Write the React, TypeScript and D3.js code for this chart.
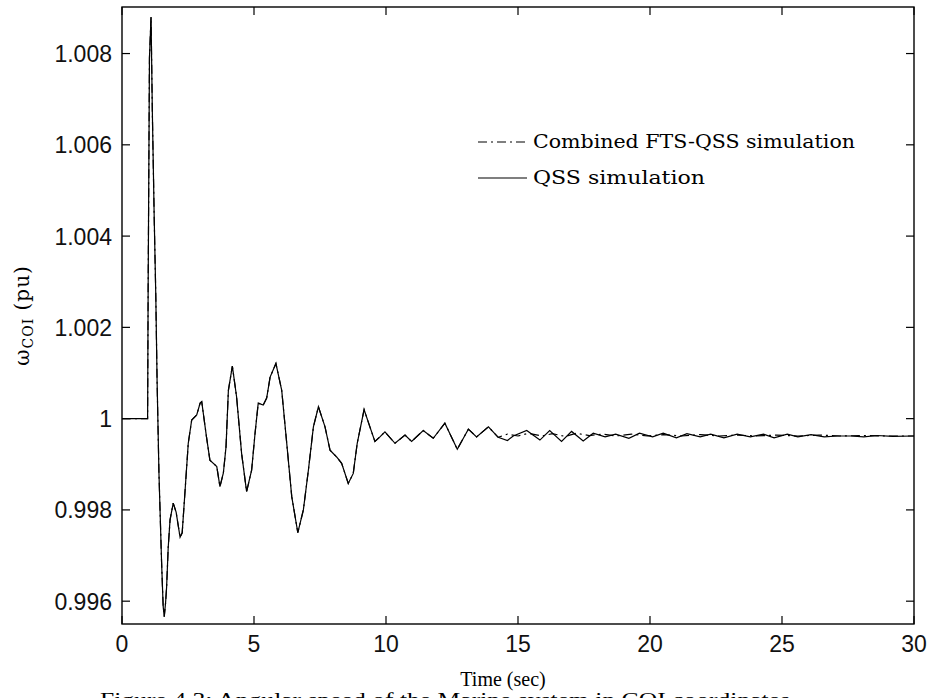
import React from "react";
import * as d3 from "d3";

// ---- data ----
const X_TICKS = [0, 5, 10, 15, 20, 25, 30];
const Y_TICKS = [0.996, 0.998, 1, 1.002, 1.004, 1.006, 1.008];
const Y_TICK_LABELS = ["0.996", "0.998", "1", "1.002", "1.004", "1.006", "1.008"];

// common part of both simulations (identical up to ~14 s)
const TIME_COMMON = [
  0, 0.97, 0.99, 1.04, 1.1, 1.15, 1.22, 1.28, 1.33, 1.4, 1.5, 1.56, 1.6, 1.65, 1.69,
  1.75, 1.82, 1.94, 2.05, 2.2, 2.28, 2.39, 2.51, 2.64, 2.83, 2.96, 3.02, 3.2, 3.33,
  3.59, 3.71, 3.84, 3.94, 4.03, 4.18, 4.34, 4.53, 4.72, 4.91, 5.04, 5.16, 5.35, 5.48,
  5.61, 5.83, 6.05, 6.24, 6.43, 6.66, 6.87, 7.06, 7.25, 7.44, 7.69, 7.88, 8.13, 8.32,
  8.57, 8.76, 8.91, 9.17, 9.39, 9.58, 9.77, 9.96, 10.34, 10.72, 10.97, 11.41, 11.79,
  12.23, 12.7, 13.12, 13.43, 13.88, 14.25,
];
const OMEGA_COMMON = [
  1, 1, 1.0028, 1.0079, 1.0088, 1.0067, 1.0044, 1.0027, 1.0008, 0.9988, 0.99684,
  0.99588, 0.99566, 0.99596, 0.99631, 0.99717, 0.99778, 0.99815, 0.99795, 0.9974,
  0.9975, 0.99843, 0.99946, 0.99997, 1.00008, 1.00034, 1.00037, 0.9996, 0.99909,
  0.99895, 0.99851, 0.99881, 0.99938, 1.00062, 1.00115, 1.00048, 0.99924, 0.9984,
  0.99887, 0.99968, 1.00034, 1.0003, 1.00045, 1.00091, 1.00121, 1.00062, 0.99946,
  0.99829, 0.9975, 0.998, 0.99887, 0.99982, 1.00026, 0.99982, 0.99931, 0.99916,
  0.99902, 0.99858, 0.9988, 0.99946, 1.0002, 0.99982, 0.9995, 0.9996, 0.99971,
  0.99946, 0.99964, 0.9995, 0.99974, 0.99957, 0.9999, 0.99933, 0.99977, 0.9996,
  0.99982, 0.99959,
];

// QSS simulation tail
const TIME_QSS_TAIL = [
  14.6, 14.82, 15.33, 15.83, 16.2, 16.65, 17.03, 17.47, 17.85, 18.3, 18.7, 19.2, 19.6,
  20.1, 20.5, 21.0, 21.4, 21.9, 22.3, 22.8, 23.3, 23.8, 24.3, 24.7, 25.2, 25.6, 26.1,
  26.6, 27.1, 27.6, 28.1, 28.6, 29.2, 30,
];
const OMEGA_QSS_TAIL = [
  0.99952, 0.99962, 0.99974, 0.99953, 0.99974, 0.9995, 0.99972, 0.99951, 0.99968,
  0.9996, 0.99966, 0.99957, 0.99968, 0.9996, 0.99968, 0.99958, 0.99967, 0.9996,
  0.99966, 0.99958, 0.99966, 0.9996, 0.99966, 0.99958, 0.99966, 0.9996, 0.99965,
  0.9996, 0.99962, 0.99962, 0.9996, 0.99963, 0.99961, 0.99962,
];

// Combined FTS-QSS simulation tail
const TIME_FTS_TAIL = [
  14.6, 15.0, 15.4, 15.9, 16.3, 16.8, 17.2, 17.7, 18.2, 18.7, 19.3, 19.9, 20.5, 21.2,
  21.9, 22.6, 23.3, 24.0, 24.8, 25.6, 26.4, 27.2, 28.0, 28.9, 30,
];
const OMEGA_FTS_TAIL = [
  0.99966, 0.99962, 0.99968, 0.99962, 0.99967, 0.99961, 0.99968, 0.99963, 0.99966,
  0.99962, 0.99966, 0.99962, 0.99965, 0.99962, 0.99965, 0.99962, 0.99964, 0.99962,
  0.99964, 0.99962, 0.99964, 0.99962, 0.99963, 0.99962, 0.99962,
];

const LEGEND_LABELS = ["Combined FTS-QSS simulation", "QSS simulation"];

// ---- layout ----
const W = 931;
const H = 698;
const L = 122;
const R = 914;
const T = 7;
const B = 624;
const TICK = 8;

export default function App() {
  const x = d3.scaleLinear().domain([0, 30]).range([L, R]);
  const y = d3.scaleLinear().domain([0.9955, 1.00902]).range([B, T]);

  const common = TIME_COMMON.map((t, i) => [t, OMEGA_COMMON[i]] as [number, number]);
  const qss = common.concat(TIME_QSS_TAIL.map((t, i) => [t, OMEGA_QSS_TAIL[i]] as [number, number]));
  const fts = common.concat(TIME_FTS_TAIL.map((t, i) => [t, OMEGA_FTS_TAIL[i]] as [number, number]));

  const line = d3
    .line<[number, number]>()
    .x((d) => x(d[0]))
    .y((d) => y(d[1]));

  const dashDot = "9 4 2 4";

  return (
    <svg
      width={W}
      height={H}
      style={{ position: "absolute", left: 0, top: 0, background: "#fff" }}
      xmlns="http://www.w3.org/2000/svg"
    >
      <rect x={0} y={0} width={W} height={H} fill="#fff" />
      {/* curves */}
      <path d={line(fts) || ""} fill="none" stroke="#000" strokeWidth={1.2} strokeDasharray={dashDot} />
      <path d={line(qss) || ""} fill="none" stroke="#000" strokeWidth={1.2} />

      {/* frame */}
      <rect x={L} y={T} width={R - L} height={B - T} fill="none" stroke="#000" strokeWidth={1.4} />

      {/* x ticks */}
      {X_TICKS.map((t) => (
        <g key={"x" + t}>
          <line x1={x(t)} x2={x(t)} y1={B} y2={B - TICK} stroke="#000" strokeWidth={1.2} />
          <line x1={x(t)} x2={x(t)} y1={T} y2={T + TICK} stroke="#000" strokeWidth={1.2} />
          <text
            x={x(t)}
            y={652}
            textAnchor="middle"
            fontFamily="'Liberation Sans', Arial, sans-serif"
            fontSize={23}
            fill="#111"
          >
            {String(t)}
          </text>
        </g>
      ))}

      {/* y ticks */}
      {Y_TICKS.map((v, i) => (
        <g key={"y" + v}>
          <line x1={L} x2={L + TICK} y1={y(v)} y2={y(v)} stroke="#000" strokeWidth={1.2} />
          <line x1={R} x2={R - TICK} y1={y(v)} y2={y(v)} stroke="#000" strokeWidth={1.2} />
          <text
            x={112}
            y={y(v) + 8.5}
            textAnchor="end"
            fontFamily="'Liberation Sans', Arial, sans-serif"
            fontSize={23}
            fill="#111"
          >
            {Y_TICK_LABELS[i]}
          </text>
        </g>
      ))}

      {/* y label */}
      <text
        transform={`translate(29, ${(T + B) / 2}) rotate(-90)`}
        textAnchor="middle"
        fontFamily="'DejaVu Serif', 'Liberation Serif', serif"
        fontSize={20}
        letterSpacing={1}
        fill="#000"
      >
        ω<tspan fontSize={14} dy={4}>COI</tspan>
        <tspan dy={-4}> (pu)</tspan>
      </text>

      {/* x label */}
      <text
        x={503}
        y={686}
        textAnchor="middle"
        fontFamily="'Liberation Serif', 'Times New Roman', serif"
        fontSize={20}
        fill="#000"
      >
        Time (sec)
      </text>

      {/* legend */}
      <line x1={478} x2={527} y1={142} y2={142} stroke="#000" strokeWidth={1.2} strokeDasharray={dashDot} />
      <text
        x={533}
        y={148}
        fontFamily="'DejaVu Serif', 'Liberation Serif', serif"
        fontSize={18}
        textLength={322}
        lengthAdjust="spacingAndGlyphs"
        fill="#000"
      >
        {LEGEND_LABELS[0]}
      </text>
      <line x1={478} x2={527} y1={178} y2={178} stroke="#000" strokeWidth={1.2} />
      <text
        x={533}
        y={184}
        fontFamily="'DejaVu Serif', 'Liberation Serif', serif"
        fontSize={18}
        textLength={172}
        lengthAdjust="spacingAndGlyphs"
        fill="#000"
      >
        {LEGEND_LABELS[1]}
      </text>

      {/* caption (clipped at the bottom in the reference) */}
      <text
        x={100}
        y={706}
        fontFamily="'Liberation Serif', 'Times New Roman', serif"
        fontSize={19}
        textLength={690}
        lengthAdjust="spacingAndGlyphs"
        fill="#000"
      >
        Figure 4.3: Angular speed of the Marine system in COI coordinates
      </text>
    </svg>
  );
}
